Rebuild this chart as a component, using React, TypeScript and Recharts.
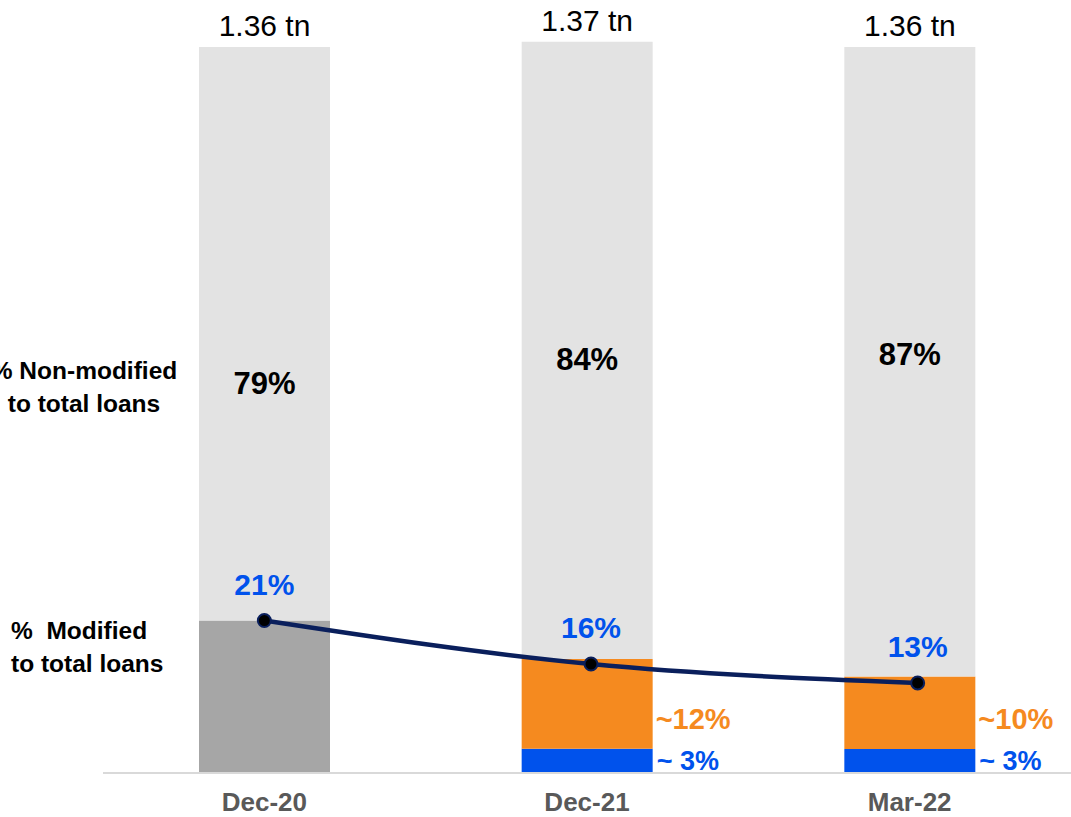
import { ComposedChart, Bar, Line, XAxis, YAxis, LabelList } from 'recharts'

// categories and values (shares in % of total loans, totals in tn)
const periods = ['Dec-20', 'Dec-21', 'Mar-22']
const totalLoans = [1.36, 1.37, 1.36]
const totalLabels = ['1.36 tn', '1.37 tn', '1.36 tn']
const modifiedShare = [21, 0, 0]
const orangeShare = [0, 12.3, 10]
const blueShare = [0, 3.3, 3.3]
const nonModifiedShare = [79, 84.4, 86.7]
const nonModifiedLabels = ['79%', '84%', '87%']
const orangeLabels = ['', '~12%', '~10%']
const blueLabels = ['', '~ 3%', '~ 3%']
const modifiedLine = [21, 14.9, 12.4]
const modifiedLineLabels = ['21%', '16%', '13%']

const data = periods.map((p, i) => {
  const tn = (share: number) => (share * totalLoans[i]) / 100
  return {
    period: p,
    blue: tn(blueShare[i]),
    orange: tn(orangeShare[i]),
    modified: tn(modifiedShare[i]),
    nonModified: tn(nonModifiedShare[i]),
    line: tn(modifiedLine[i]),
    totalLabel: totalLabels[i],
    nonModLabel: nonModifiedLabels[i],
    orangeLabel: orangeLabels[i],
    blueLabel: blueLabels[i],
    lineLabel: modifiedLineLabels[i],
  }
})

const FONT = 'Arial, "Liberation Sans", sans-serif'
const BLUE = '#0052ec'
const ORANGE = '#f58a1f'
const nonModShift = [50, 9, -7]

const box = (p: any) => {
  const vb = p.viewBox ?? p
  return { x: Number(vb.x), y: Number(vb.y), w: Number(vb.width), h: Number(vb.height) }
}

const NonModLabel = (p: any) => {
  const { x, y, w, h } = box(p)
  const i = p.index ?? 0
  return (
    <text x={x + w / 2} y={y + h / 2 + nonModShift[i]} textAnchor="middle" dominantBaseline="central"
      style={{ fontFamily: FONT, fontSize: 31, fontWeight: 700, fill: '#000' }}>
      {p.value}
    </text>
  )
}

const OrangeLabel = (p: any) => {
  if (!p.value) return null
  const { x, y, w, h } = box(p)
  return (
    <text x={x + w + 3} y={y + h - 30} dominantBaseline="central"
      style={{ fontFamily: FONT, fontSize: 29, fontWeight: 700, fill: ORANGE }}>
      {p.value}
    </text>
  )
}

const BlueLabel = (p: any) => {
  if (!p.value) return null
  const { x, y, w, h } = box(p)
  return (
    <text x={x + w + 4} y={y + h / 2} dominantBaseline="central"
      style={{ fontFamily: FONT, fontSize: 27, fontWeight: 700, fill: BLUE }}>
      {p.value}
    </text>
  )
}

const sideText: React.CSSProperties = {
  position: 'absolute', fontFamily: FONT, fontSize: 24.5, fontWeight: 700, color: '#000',
  lineHeight: '33px', whiteSpace: 'nowrap',
}

export default function App() {
  return (
    <div style={{ position: 'absolute', left: 0, top: 0, width: 1071, height: 817, background: '#fff' }}>
      <ComposedChart width={1071} height={817} data={data} barCategoryGap={96}
        margin={{ top: 0, right: 0, bottom: 14, left: 103 }}>
        <XAxis dataKey="period" height={30} axisLine={{ stroke: '#d9d9d9', strokeWidth: 2 }} tickLine={false}
          tickMargin={14} tick={{ fontSize: 26, fontWeight: 700, fill: '#595959', fontFamily: FONT }} />
        <XAxis xAxisId="line" dataKey="period" hide padding={{ left: -2, right: -10 }} />
        <YAxis hide domain={[0, 1.448]} allowDataOverflow />
        <Bar dataKey="blue" stackId="a" fill={BLUE} isAnimationActive={false}>
          <LabelList dataKey="blueLabel" content={BlueLabel} />
        </Bar>
        <Bar dataKey="orange" stackId="a" fill={ORANGE} isAnimationActive={false}>
          <LabelList dataKey="orangeLabel" content={OrangeLabel} />
        </Bar>
        <Bar dataKey="modified" stackId="a" fill="#a6a6a6" isAnimationActive={false} />
        <Bar dataKey="nonModified" stackId="a" fill="#e3e3e3" isAnimationActive={false}>
          <LabelList dataKey="nonModLabel" content={NonModLabel} />
          <LabelList dataKey="totalLabel" position="top" offset={11}
            style={{ fontFamily: FONT, fontSize: 30, fontWeight: 400, fill: '#000' }} />
        </Bar>
        <Line xAxisId="line" type="monotone" dataKey="line" stroke="#0a1f5c" strokeWidth={4.5} isAnimationActive={false}
          dot={{ r: 6.5, fill: '#000', stroke: '#0a1f5c', strokeWidth: 2 }} activeDot={false}>
          <LabelList dataKey="lineLabel" position="top" offset={26}
            style={{ fontFamily: FONT, fontSize: 30, fontWeight: 700, fill: BLUE }} />
        </Line>
      </ComposedChart>
      <div style={{ ...sideText, left: 84, top: 354, transform: 'translateX(-50%)', textAlign: 'center' }}>
        % Non-modified<br />to total loans
      </div>
      <div style={{ ...sideText, left: 11, top: 614 }}>
        %&nbsp; Modified<br />to total loans
      </div>
    </div>
  )
}
